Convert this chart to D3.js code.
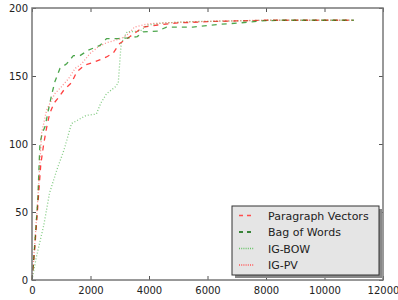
<!DOCTYPE html>
<html>
<head>
<meta charset="utf-8">
<script src="https://cdn.jsdelivr.net/npm/d3@7"></script>
<style>
  html, body { margin: 0; padding: 0; background: #fff; }
  svg { display: block; font-family: "DejaVu Sans", sans-serif; }
</style>
</head>
<body>
<div id="chart"></div>
<script>
// values
const pvX = [0, 50, 100, 200, 300, 400, 500, 600, 750, 900, 1100, 1350, 1530, 1800, 2100, 2550, 2780, 3000, 3350, 3800, 4300, 5000, 6000, 7000, 8000, 9000, 11000];
const pvY = [0, 12, 25, 55, 85, 100, 112, 122, 130, 134, 140, 145, 153, 158, 160, 164, 167, 174, 179, 186, 187.5, 189, 190, 190.5, 191, 191, 191];

const bowX = [0, 50, 100, 200, 270, 350, 450, 560, 670, 785, 955, 1185, 1415, 1640, 1925, 2325, 2550, 2950, 3300, 3600, 3800, 4300, 4600, 5500, 6400, 7100, 7800, 8500, 11000];
const bowY = [0, 13, 28, 60, 100, 108, 113, 125, 136, 146, 155.5, 159, 165, 165, 169, 172.5, 177.5, 177.5, 178, 179, 182.5, 183, 186, 186, 188, 189, 190.5, 191, 191];

const igBowX = [0, 150, 400, 600, 850, 1100, 1350, 1600, 1850, 2200, 2350, 2550, 2850, 2950, 3000, 3050, 3250, 3700, 3950, 4500, 5500, 7000, 8000, 11000];
const igBowY = [0, 17, 40, 64, 81, 96, 115, 118, 121, 122, 130, 137, 142, 145, 160, 174, 182.5, 183, 187.5, 189, 190, 190.5, 191, 191];

const igPvX = [0, 50, 100, 200, 330, 500, 780, 1000, 1250, 1470, 1700, 1980, 2270, 2550, 3050, 3300, 3500, 4000, 5000, 6500, 8000, 11000];
const igPvY = [0, 14, 28, 60, 108, 125, 137, 142, 148, 155.5, 159, 166.5, 171.5, 174.5, 177.5, 181, 186, 188.5, 189.5, 190.5, 191, 191];

const xTicks = [0, 2000, 4000, 6000, 8000, 10000, 12000];
const yTicks = [0, 50, 100, 150, 200];

const series = [
  { name: "Paragraph Vectors", xs: pvX, ys: pvY, color: "#ff0000", dash: "5,5", opacity: 0.75, legendColor: "#ff4d4d" },
  { name: "Bag of Words", xs: bowX, ys: bowY, color: "#008000", dash: "5,5", opacity: 0.7, legendColor: "#006400" },
  { name: "IG-BOW", xs: igBowX, ys: igBowY, color: "#2ea82e", dash: "1,2", opacity: 0.6, legendColor: "#66c266" },
  { name: "IG-PV", xs: igPvX, ys: igPvY, color: "#ff3333", dash: "1,2", opacity: 0.55, legendColor: "#ff5555" }
];

const W = 398, H = 300;
const m = { left: 32, right: 15, top: 8, bottom: 20 };

const svg = d3.select("#chart").append("svg").attr("width", W).attr("height", H);

const x = d3.scaleLinear().domain([0, 12000]).range([m.left, W - m.right]);
const y = d3.scaleLinear().domain([0, 200]).range([H - m.bottom, m.top]);

const line = d3.line().x(d => x(d[0])).y(d => y(d[1]));

// lines
series.forEach(s => {
  svg.append("path")
    .datum(s.xs.map((v, i) => [v, s.ys[i]]))
    .attr("fill", "none")
    .attr("stroke", s.color)
    .attr("stroke-opacity", s.opacity)
    .attr("stroke-width", 1.3)
    .attr("stroke-dasharray", s.dash)
    .attr("d", line);
});

// axes, matplotlib classic style: ticks inside on all four sides
const tickLen = 4;
const fmt = d3.format("d");
svg.append("g")
  .attr("transform", `translate(0,${H - m.bottom})`)
  .call(d3.axisBottom(x).tickValues(xTicks).tickFormat(fmt).tickSizeInner(-tickLen).tickSizeOuter(0).tickPadding(7));
svg.append("g")
  .attr("transform", `translate(0,${m.top})`)
  .call(d3.axisTop(x).tickValues(xTicks).tickFormat("").tickSizeInner(-tickLen).tickSizeOuter(0));
svg.append("g")
  .attr("transform", `translate(${m.left},0)`)
  .call(d3.axisLeft(y).tickValues(yTicks).tickFormat(fmt).tickSizeInner(-tickLen).tickSizeOuter(0).tickPadding(4));
svg.append("g")
  .attr("transform", `translate(${W - m.right},0)`)
  .call(d3.axisRight(y).tickValues(yTicks).tickFormat("").tickSizeInner(-tickLen).tickSizeOuter(0));

svg.selectAll(".domain").remove();
svg.selectAll(".tick line").attr("stroke", "#555");
svg.selectAll(".tick text").attr("font-size", 10).attr("fill", "#222").attr("font-family", "DejaVu Sans, sans-serif");

// frame
svg.append("rect")
  .attr("x", m.left).attr("y", m.top)
  .attr("width", W - m.right - m.left).attr("height", H - m.bottom - m.top)
  .attr("fill", "none").attr("stroke", "#777").attr("stroke-width", 1.5);

// legend with shadow
const lg = { x: 232, y: 206, w: 147, h: 69 };
svg.append("rect")
  .attr("x", lg.x + 3).attr("y", lg.y + 3).attr("width", lg.w).attr("height", lg.h)
  .attr("fill", "#888");
svg.append("rect")
  .attr("x", lg.x).attr("y", lg.y).attr("width", lg.w).attr("height", lg.h)
  .attr("fill", "#e5e5e5").attr("stroke", "#333").attr("stroke-width", 1);

series.forEach((s, i) => {
  const ly = lg.y + 9.5 + i * 16.5;
  svg.append("line")
    .attr("x1", lg.x + 7).attr("x2", lg.x + 22)
    .attr("y1", ly).attr("y2", ly)
    .attr("stroke", s.legendColor)
    .attr("stroke-width", 1.3)
    .attr("stroke-dasharray", s.dash === "5,5" ? "4,4" : "1,1.2");
  svg.append("text")
    .attr("x", lg.x + 36).attr("y", ly + 4)
    .attr("font-size", 11).attr("fill", "#222")
    .text(s.name);
});
</script>
</body>
</html>
